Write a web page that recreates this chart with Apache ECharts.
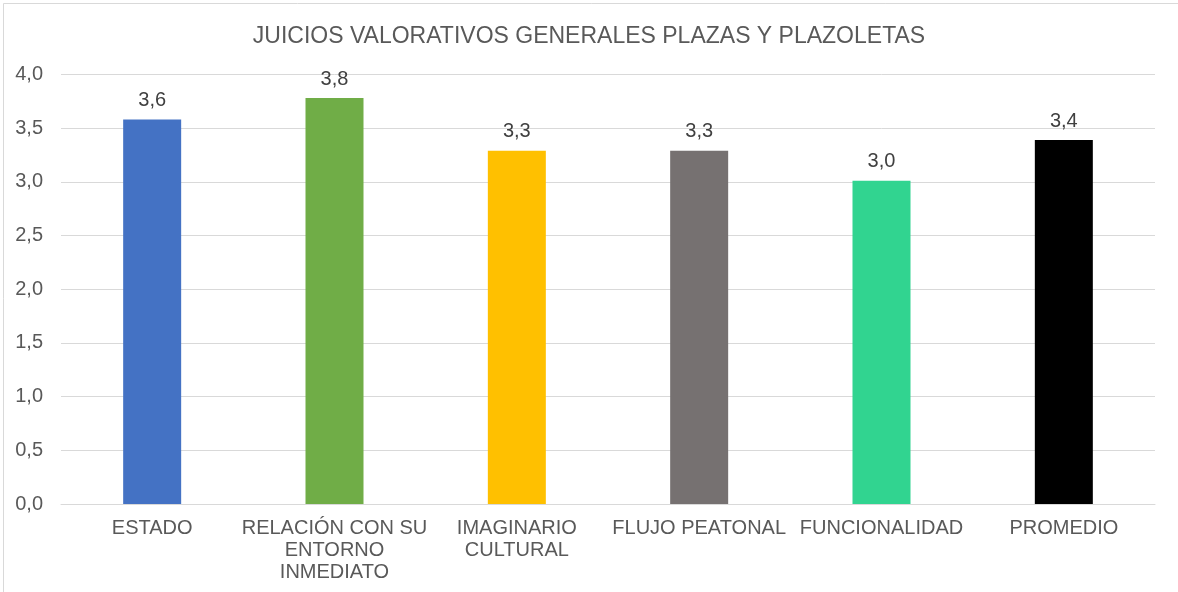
<!DOCTYPE html>
<html>
<head>
<meta charset="utf-8">
<title>Juicios valorativos generales plazas y plazoletas</title>
<script src="https://cdn.jsdelivr.net/npm/echarts@6/dist/echarts.min.js"></script>
<style>
  html, body { margin: 0; padding: 0; background: #ffffff; }
  #chart { width: 1178px; height: 592px; }
</style>
</head>
<body>
<div id="chart"></div>
<script>
// Chart content
const chartTitle = 'JUICIOS VALORATIVOS GENERALES PLAZAS Y PLAZOLETAS';
const categories = ['ESTADO', 'RELACIÓN CON SU\nENTORNO\nINMEDIATO', 'IMAGINARIO\nCULTURAL', 'FLUJO PEATONAL', 'FUNCIONALIDAD', 'PROMEDIO'];
const values = [3.58, 3.78, 3.29, 3.29, 3.01, 3.39];
const barColors = ['#4472C4', '#70AD47', '#FFC000', '#767171', '#31D490', '#000000'];
const yTicks = { min: 0, max: 4, interval: 0.5 };

// Spanish number format: one decimal, comma separator
const fmt = v => Number(v).toFixed(1).replace('.', ',');

const chart = echarts.init(document.getElementById('chart'), null, { renderer: 'canvas' });

chart.setOption({
  backgroundColor: '#ffffff',
  animation: false,
  textStyle: { fontFamily: '"Liberation Sans", Arial, sans-serif' },
  title: {
    text: chartTitle,
    left: 'center',
    top: 20,
    textStyle: {
      fontFamily: '"Liberation Sans", Arial, sans-serif',
      fontSize: 23,
      fontWeight: 'normal',
      color: '#595959'
    }
  },
  graphic: [{
    type: 'rect',
    silent: true,
    shape: { x: 3.5, y: 3.5, width: 1200, height: 620 },
    style: { fill: 'none', stroke: '#D9D9D9', lineWidth: 1 }
  }],
  grid: { left: 61, right: 23, top: 74.5, bottom: 88, containLabel: false },
  xAxis: {
    type: 'category',
    data: categories,
    axisTick: { show: false },
    axisLine: { lineStyle: { color: '#D9D9D9', width: 1 } },
    axisLabel: {
      interval: 0,
      margin: 13,
      fontSize: 20,
      lineHeight: 22,
      color: '#595959',
      align: 'center'
    }
  },
  yAxis: {
    type: 'value',
    min: yTicks.min,
    max: yTicks.max,
    interval: yTicks.interval,
    axisLine: { show: false },
    axisTick: { show: false },
    splitLine: { lineStyle: { color: '#D9D9D9', width: 1 } },
    axisLabel: {
      margin: 18,
      fontSize: 20,
      color: '#595959',
      formatter: v => fmt(v)
    }
  },
  series: [{
    type: 'bar',
    barWidth: 58,
    data: values.map((v, i) => ({ value: v, itemStyle: { color: barColors[i] } })),
    label: {
      show: true,
      position: 'top',
      distance: 9,
      fontSize: 20,
      color: '#404040',
      formatter: p => fmt(p.value)
    }
  }]
});
</script>
</body>
</html>
